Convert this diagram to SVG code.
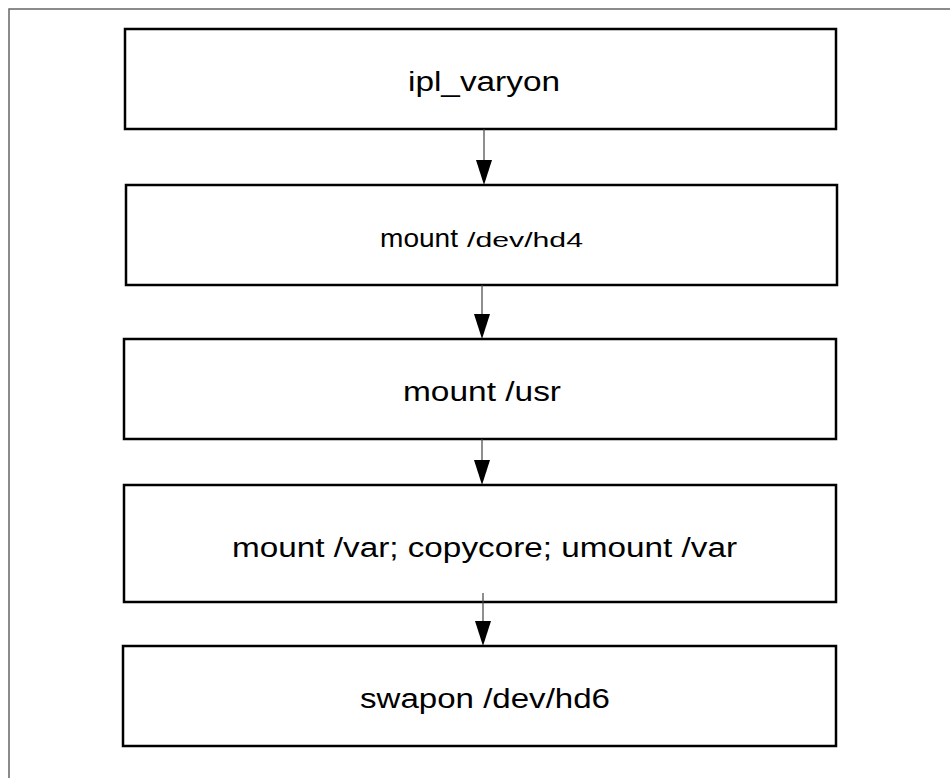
<svg xmlns="http://www.w3.org/2000/svg" width="950" height="778" viewBox="0 0 950 778">
<style>
.box{fill:#fff;stroke:#000;stroke-width:2.5}
.lbl{font-family:"Liberation Sans",Arial,sans-serif;font-size:27px;fill:#000}
.mid{font-size:26px}
.small{font-size:21px}
.ln{stroke:#444;stroke-width:1.2;fill:none}
.hd{fill:#000}
</style>
<rect width="950" height="778" fill="#fff"/>
<path d="M9 778 V9 H950" fill="none" stroke="#666" stroke-width="1.5"/>
<g id="n1"><rect class="box" x="125" y="29" width="711" height="100"/><text class="lbl" x="408" y="91" textLength="152" lengthAdjust="spacingAndGlyphs">ipl_varyon</text></g>
<g id="n2"><rect class="box" x="126" y="185" width="711" height="100"/><text class="lbl mid" x="380" y="247"><tspan textLength="78" lengthAdjust="spacingAndGlyphs">mount</tspan><tspan x="467" y="247" class="small" textLength="116" lengthAdjust="spacingAndGlyphs">/dev/hd4</tspan></text></g>
<g id="n3"><rect class="box" x="124" y="339" width="712" height="100"/><text class="lbl" x="403" y="401" textLength="158" lengthAdjust="spacingAndGlyphs">mount /usr</text></g>
<g id="n4"><rect class="box" x="124" y="485" width="712" height="117"/><text class="lbl" x="232" y="557" textLength="505" lengthAdjust="spacingAndGlyphs">mount /var; copycore; umount /var</text></g>
<g id="n5"><rect class="box" x="123" y="646" width="713" height="100"/><text class="lbl" x="360" y="708" textLength="250" lengthAdjust="spacingAndGlyphs">swapon /dev/hd6</text></g>
<g id="edges">
<line class="ln" x1="484" y1="129" x2="484" y2="162"/><polygon class="hd" points="476,160 492,160 484,185"/>
<line class="ln" x1="482" y1="285" x2="482" y2="316"/><polygon class="hd" points="474,314 490,314 482,339"/>
<line class="ln" x1="482" y1="439" x2="482" y2="462"/><polygon class="hd" points="474,460 490,460 482,485"/>
<line class="ln" x1="483" y1="593" x2="483" y2="623"/><polygon class="hd" points="475,621 491,621 483,646"/>
</g>
</svg>
